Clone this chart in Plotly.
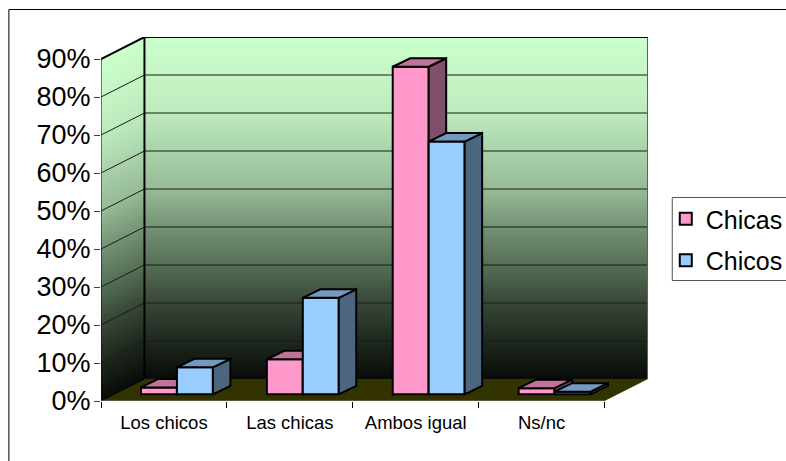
import plotly.graph_objects as go

categories = ["Los chicos", "Las chicas", "Ambos igual", "Ns/nc"]
chicas = [1.8, 9.2, 86.2, 1.6]
chicos = [7.1, 25.4, 66.5, 0.7]
y_ticks = [0, 10, 20, 30, 40, 50, 60, 70, 80, 90]
y_labels = [f"{v}%" for v in y_ticks]

# Pseudo-3D projection, in axis units
PX_X, PX_Y = 126.0, 3.8
L, R, T, B = 100.7, 648.2, 37.0, 401.0
DEPTH_X, DEPTH_Y = 43.5 / PX_X, 22.0 / PX_Y
BAR_W = 36.0 / PX_X
BAR_DX, BAR_DY = 17.5 / PX_X, 8.5 / PX_Y
BAR_BASE = 6.7 / PX_Y
X0, X1 = -0.5, 3.5
Y_MAX = 90
OFF_PINK, OFF_BLUE = -0.0397, 0.2460
FONT = "Liberation Sans"

PINK, PINK_TOP, PINK_SIDE = "#FF99CC", "#C0739A", "#80506A"
BLUE, BLUE_TOP, BLUE_SIDE = "#99CCFF", "#7399C0", "#4D6680"

GRAD = [(0.0, (8, 12, 8)), (0.11, (30, 40, 30)), (0.22, (55, 70, 55)), (0.33, (85, 110, 85)),
        (0.44, (115, 145, 115)), (0.55, (150, 185, 150)), (0.78, (190, 235, 190)), (1.0, (204, 255, 204))]


def grad(t):
    for (a, ca), (b, cb) in zip(GRAD, GRAD[1:]):
        if t <= b:
            f = (t - a) / (b - a)
            return "rgb(%d,%d,%d)" % tuple(round(p + (q - p) * f) for p, q in zip(ca, cb))
    return "rgb(204,255,204)"


def poly(pts):
    return "M" + "L".join(f"{x:.5f},{y:.5f}" for x, y in pts) + "Z"


shapes = []
STEPS = 120
for i in range(STEPS):
    hi = Y_MAX * (1 - i / STEPS)
    lo = max(hi - 2 * Y_MAX / STEPS, 0)
    c = grad((hi - 0.5 * Y_MAX / STEPS) / Y_MAX)
    shapes.append(dict(type="path", xref="x", yref="y", layer="below", fillcolor=c, line_width=0,
                       path=poly([(X0 + DEPTH_X, lo + DEPTH_Y), (X1 + DEPTH_X, lo + DEPTH_Y),
                                  (X1 + DEPTH_X, hi + DEPTH_Y), (X0 + DEPTH_X, hi + DEPTH_Y)])))
    shapes.append(dict(type="path", xref="x", yref="y", layer="below", fillcolor=c, line_width=0,
                       path=poly([(X0, lo), (X0 + DEPTH_X, lo + DEPTH_Y),
                                  (X0 + DEPTH_X, hi + DEPTH_Y), (X0, hi)])))
# floor
shapes.append(dict(type="path", xref="x", yref="y", layer="below", fillcolor="#333300",
                   line=dict(width=0),
                   path=poly([(X0, 0), (X0 + DEPTH_X, DEPTH_Y), (X1 + DEPTH_X, DEPTH_Y), (X1, 0)])))
# gridlines
for v in y_ticks[1:-1]:
    shapes.append(dict(type="path", xref="x", yref="y", layer="below", line=dict(color="#1a1a1a", width=1),
                       path=f"M{X0},{v}L{X0 + DEPTH_X:.5f},{v + DEPTH_Y:.5f}L{X1 + DEPTH_X:.5f},{v + DEPTH_Y:.5f}"))
# wall edges
shapes.append(dict(type="path", xref="x", yref="y", layer="below", line=dict(color="#606060", width=2),
                   path=f"M{X1 + DEPTH_X:.5f},{Y_MAX + DEPTH_Y:.5f}L{X1 + DEPTH_X:.5f},{DEPTH_Y:.5f}"))
shapes.append(dict(type="path", xref="x", yref="y", layer="below", line=dict(color="#000000", width=2),
                   path=f"M{X0},{Y_MAX}L{X0 + DEPTH_X:.5f},{Y_MAX + DEPTH_Y:.5f}L{X1 + DEPTH_X:.5f},{Y_MAX + DEPTH_Y:.5f}"))
shapes.append(dict(type="path", xref="x", yref="y", layer="below", line=dict(color="#000000", width=2),
                   path=f"M{X0 + DEPTH_X:.5f},{Y_MAX + DEPTH_Y:.5f}L{X0 + DEPTH_X:.5f},{DEPTH_Y:.5f}"))
shapes.append(dict(type="path", xref="x", yref="y", layer="below", line=dict(color="#000000", width=1),
                   path=f"M{X0},{Y_MAX}L{X0},0L{X0 + DEPTH_X:.5f},{DEPTH_Y:.5f}"))
shapes.append(dict(type="line", xref="x", yref="y", layer="below", line=dict(color="#808080", width=1),
                   x0=X0, x1=X1, y0=0, y1=0))
# chart frame
shapes.append(dict(type="rect", xref="paper", yref="paper", layer="below", line=dict(color="#000000", width=1),
                   fillcolor="rgba(0,0,0,0)",
                   x0=(8.5 - L) / (R - L), x1=(800 - L) / (R - L),
                   y0=(B - 480) / (B - T), y1=(B - 9.5) / (B - T)))
# legend frame
shapes.append(dict(type="rect", xref="paper", yref="paper", layer="below", line=dict(color="#555555", width=1),
                   fillcolor="#FFFFFF",
                   x0=(672.5 - L) / (R - L), x1=(800 - L) / (R - L),
                   y0=(B - 280.5) / (B - T), y1=(B - 197.5) / (B - T)))


def face_traces(values, offset, top, side, xa, ya):
    out = []
    for i, v in enumerate(values):
        xl = i + offset - BAR_W / 2
        xr = i + offset + BAR_W / 2
        yb, yt = BAR_BASE, BAR_BASE + v
        side_pts = [(xr, yb), (xr + BAR_DX, yb + BAR_DY), (xr + BAR_DX, yt + BAR_DY), (xr, yt), (xr, yb)]
        top_pts = [(xl, yt), (xl + BAR_DX, yt + BAR_DY), (xr + BAR_DX, yt + BAR_DY), (xr, yt), (xl, yt)]
        for pts, col in ((side_pts, side), (top_pts, top)):
            out.append(go.Scatter(x=[p[0] for p in pts], y=[p[1] for p in pts], mode="lines", fill="toself",
                                  fillcolor=col, line=dict(color="#000000", width=2), showlegend=False,
                                  hoverinfo="skip", xaxis=xa, yaxis=ya))
    return out


fig = go.Figure()
fig.add_trace(go.Bar(name="Chicas", legendgroup="a", x=[i + OFF_PINK for i in range(4)], y=chicas,
                     base=[BAR_BASE] * 4, width=BAR_W,
                     marker=dict(color=PINK, line=dict(color="#000000", width=2)), xaxis="x", yaxis="y"))
fig.add_traces(face_traces(chicas, OFF_PINK, PINK_TOP, PINK_SIDE, "x", "y"))
fig.add_trace(go.Bar(name="Chicos", legendgroup="b", x=[i + OFF_BLUE for i in range(4)], y=chicos,
                     base=[BAR_BASE] * 4, width=BAR_W,
                     marker=dict(color=BLUE, line=dict(color="#000000", width=2)), xaxis="x2", yaxis="y2"))
fig.add_traces(face_traces(chicos, OFF_BLUE, BLUE_TOP, BLUE_SIDE, "x2", "y2"))

x_range = [X0, X1 + DEPTH_X]
y_range = [0, Y_MAX + DEPTH_Y]
fig.update_layout(
    width=786, height=461, autosize=False, paper_bgcolor="#FFFFFF", plot_bgcolor="rgba(0,0,0,0)",
    margin=dict(l=L, r=786 - R, t=T, b=461 - B, pad=0, autoexpand=False),
    font=dict(family=FONT, color="#000000"), barmode="overlay", shapes=shapes, showlegend=True,
    legend=dict(x=(670 - L) / (R - L), y=(B - 196) / (B - T), xanchor="left", yanchor="top",
                font=dict(size=25, family=FONT), bgcolor="rgba(0,0,0,0)", borderwidth=0,
                tracegroupgap=6, traceorder="grouped", indentation=-4),
    xaxis=dict(range=x_range, tickvals=[-0.5, 0.5, 1.5, 2.5, 3.5], ticktext=["", "", "", "", ""], ticks="outside",
               ticklen=6, tickwidth=1, tickcolor="#000000", showgrid=False, zeroline=False, showline=False),
    xaxis2=dict(range=x_range, overlaying="x", anchor="y", tickvals=[0, 1, 2, 3], ticktext=categories, ticks="",
                showgrid=False, zeroline=False, showline=False, tickfont=dict(size=18.5, family=FONT),
                ticklabelstandoff=8),
    yaxis=dict(range=y_range, tickvals=y_ticks, ticktext=y_labels, ticks="outside", ticklen=6, tickwidth=1,
               tickcolor="#404040", showgrid=False, zeroline=False, showline=False,
               tickfont=dict(size=27, family=FONT), ticklabelstandoff=-2),
    yaxis2=dict(range=y_range, overlaying="y", anchor="x", showticklabels=False, ticks="", showgrid=False,
                zeroline=False, showline=False),
)
fig.write_html("out.html", post_script="document.body.style.margin='0';", config={"displayModeBar": False})
